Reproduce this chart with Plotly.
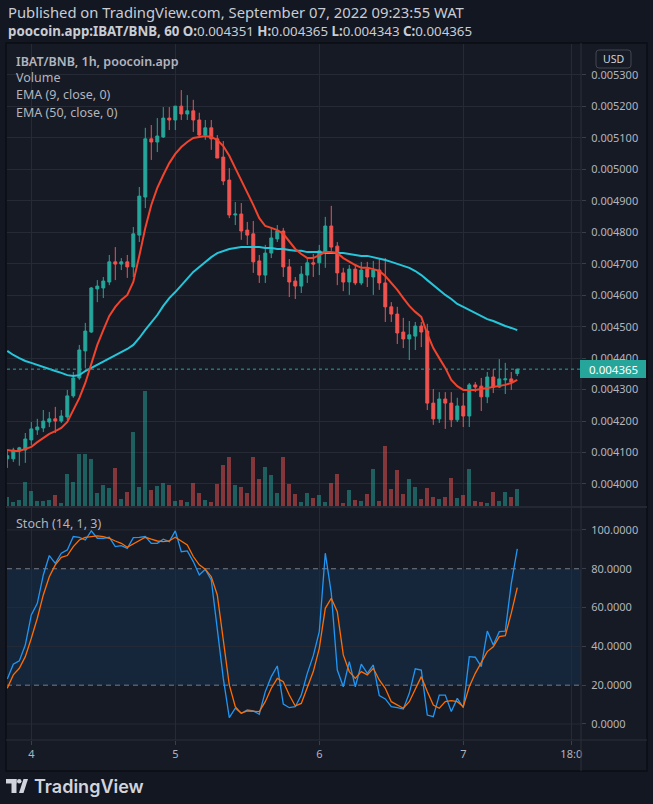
import plotly.graph_objects as go

W, H = 653, 804


def px(x):
    return x / W


def py(y):
    return 1 - y / H


# ---------------- data (1h candles, Sep 3 20:00 -> Sep 7 09:00) ----------------
hour_index = list(range(86))
day_tick_vals = [4, 28, 52, 76, 94]
day_tick_text = ["4", "5", "6", "7", "18:0"]
price_ticks = [0.0040, 0.0041, 0.0042, 0.0043, 0.0044, 0.0045, 0.0046,
               0.0047, 0.0048, 0.0049, 0.0050, 0.0051, 0.0052, 0.0053]
stoch_ticks = [0, 20, 40, 60, 80, 100]

open_ = [0.004080, 0.004080, 0.004105, 0.004108, 0.004140, 0.004172, 0.004178, 0.004197, 0.004207, 0.004200,
         0.004213, 0.004280, 0.004337, 0.004423, 0.004483, 0.004620, 0.004623, 0.004642, 0.004706, 0.004699,
         0.004706, 0.004690, 0.004791, 0.004912, 0.005097, 0.005087, 0.005103, 0.005163, 0.005157, 0.005201,
         0.005176, 0.005186, 0.005157, 0.005109, 0.005132, 0.005097, 0.005039, 0.004966, 0.004855, 0.004858,
         0.004807, 0.004795, 0.004709, 0.004664, 0.004734, 0.004779, 0.004804, 0.004690, 0.004645, 0.004629,
         0.004664, 0.004703, 0.004703, 0.004737, 0.004820, 0.004756, 0.004671, 0.004642, 0.004683, 0.004639,
         0.004683, 0.004658, 0.004680, 0.004639, 0.004563, 0.004540, 0.004483, 0.004461, 0.004470, 0.004502,
         0.004486, 0.004257, 0.004207, 0.004270, 0.004257, 0.004204, 0.004248, 0.004216, 0.004315, 0.004311,
         0.004277, 0.004340, 0.004308, 0.004331, 0.004334, 0.004351]
high = [0.004111, 0.004115, 0.004118, 0.004162, 0.004197, 0.004207, 0.004235, 0.004229, 0.004245, 0.004235,
        0.004299, 0.004356, 0.004442, 0.004512, 0.004626, 0.004648, 0.004658, 0.004728, 0.004753, 0.004718,
        0.004728, 0.004817, 0.004944, 0.005132, 0.005141, 0.005163, 0.005198, 0.005198, 0.005201, 0.005252,
        0.005236, 0.005221, 0.005180, 0.005157, 0.005157, 0.005109, 0.005090, 0.005004, 0.004896, 0.004893,
        0.004833, 0.004836, 0.004728, 0.004760, 0.004814, 0.004823, 0.004814, 0.004715, 0.004658, 0.004693,
        0.004718, 0.004731, 0.004760, 0.004849, 0.004884, 0.004769, 0.004687, 0.004696, 0.004696, 0.004706,
        0.004706, 0.004709, 0.004718, 0.004718, 0.004578, 0.004563, 0.004528, 0.004518, 0.004515, 0.004515,
        0.004509, 0.004302, 0.004292, 0.004292, 0.004292, 0.004274, 0.004289, 0.004321, 0.004324, 0.004337,
        0.004356, 0.004365, 0.004397, 0.004385, 0.004356, 0.004365]
low = [0.004051, 0.004070, 0.004058, 0.004067, 0.004124, 0.004156, 0.004165, 0.004181, 0.004162, 0.004194,
       0.004204, 0.004274, 0.004331, 0.004369, 0.004480, 0.004578, 0.004591, 0.004632, 0.004648, 0.004680,
       0.004655, 0.004658, 0.004769, 0.004877, 0.005030, 0.005055, 0.005100, 0.005125, 0.005125, 0.005157,
       0.005157, 0.005119, 0.005103, 0.005094, 0.005062, 0.005036, 0.004950, 0.004845, 0.004823, 0.004776,
       0.004760, 0.004671, 0.004639, 0.004639, 0.004718, 0.004769, 0.004658, 0.004594, 0.004588, 0.004607,
       0.004639, 0.004658, 0.004664, 0.004687, 0.004741, 0.004632, 0.004613, 0.004601, 0.004632, 0.004632,
       0.004626, 0.004601, 0.004617, 0.004515, 0.004515, 0.004445, 0.004432, 0.004394, 0.004426, 0.004435,
       0.004235, 0.004188, 0.004194, 0.004175, 0.004181, 0.004197, 0.004181, 0.004181, 0.004292, 0.004232,
       0.004257, 0.004289, 0.004305, 0.004286, 0.004299, 0.004343]
close = [0.004090, 0.004108, 0.004115, 0.004143, 0.004175, 0.004181, 0.004200, 0.004207, 0.004200, 0.004216,
         0.004280, 0.004337, 0.004426, 0.004486, 0.004623, 0.004629, 0.004645, 0.004706, 0.004699, 0.004706,
         0.004690, 0.004795, 0.004915, 0.005097, 0.005087, 0.005106, 0.005163, 0.005157, 0.005201, 0.005176,
         0.005186, 0.005157, 0.005109, 0.005132, 0.005097, 0.005036, 0.004963, 0.004855, 0.004858, 0.004804,
         0.004791, 0.004706, 0.004664, 0.004734, 0.004782, 0.004804, 0.004690, 0.004642, 0.004629, 0.004667,
         0.004703, 0.004699, 0.004741, 0.004820, 0.004753, 0.004671, 0.004642, 0.004683, 0.004639, 0.004680,
         0.004658, 0.004680, 0.004639, 0.004563, 0.004540, 0.004480, 0.004461, 0.004474, 0.004502, 0.004483,
         0.004257, 0.004207, 0.004270, 0.004257, 0.004204, 0.004248, 0.004216, 0.004315, 0.004308, 0.004277,
         0.004340, 0.004308, 0.004334, 0.004334, 0.004324, 0.004365]
volume = [28, 12, 18, 72, 45, 15, 15, 18, 33, 10,
          96, 72, 156, 156, 141, 39, 63, 55, 114, 21,
          42, 222, 57, 345, 48, 60, 69, 63, 15, 18,
          12, 69, 39, 18, 12, 66, 123, 147, 63, 57,
          39, 147, 81, 117, 93, 39, 147, 66, 36, 12,
          39, 24, 33, 12, 69, 96, 8, 48, 18, 15,
          36, 111, 15, 180, 51, 108, 36, 81, 57, 21,
          54, 27, 21, 27, 84, 24, 33, 111, 15, 12,
          9, 42, 15, 42, 27, 51]
ema9 = [0.004108, 0.004105, 0.004105, 0.004111, 0.004118, 0.004133, 0.004146, 0.004159, 0.004168, 0.004178,
        0.004197, 0.004235, 0.004273, 0.004321, 0.004378, 0.004442, 0.004489, 0.004534, 0.004563, 0.004585,
        0.004601, 0.004642, 0.004725, 0.004814, 0.004887, 0.004941, 0.004982, 0.005020, 0.005049, 0.005071,
        0.005087, 0.005100, 0.005103, 0.005106, 0.005103, 0.005093, 0.005074, 0.005043, 0.005004, 0.004966,
        0.004928, 0.004887, 0.004845, 0.004820, 0.004814, 0.004807, 0.004795, 0.004769, 0.004747, 0.004731,
        0.004718, 0.004718, 0.004728, 0.004737, 0.004737, 0.004734, 0.004718, 0.004706, 0.004696, 0.004687,
        0.004687, 0.004683, 0.004677, 0.004661, 0.004639, 0.004617, 0.004591, 0.004566, 0.004547, 0.004531,
        0.004477, 0.004432, 0.004400, 0.004369, 0.004331, 0.004311, 0.004299, 0.004299, 0.004299, 0.004302,
        0.004305, 0.004308, 0.004311, 0.004315, 0.004321, 0.004331]
ema50 = [0.004423, 0.004410, 0.004400, 0.004391, 0.004385, 0.004378, 0.004372, 0.004365, 0.004359, 0.004353,
         0.004346, 0.004343, 0.004346, 0.004359, 0.004369, 0.004381, 0.004391, 0.004400, 0.004410, 0.004420,
         0.004429, 0.004442, 0.004464, 0.004490, 0.004515, 0.004537, 0.004566, 0.004591, 0.004610, 0.004632,
         0.004652, 0.004674, 0.004690, 0.004706, 0.004721, 0.004734, 0.004741, 0.004747, 0.004750, 0.004753,
         0.004753, 0.004753, 0.004753, 0.004750, 0.004750, 0.004747, 0.004747, 0.004744, 0.004741, 0.004741,
         0.004737, 0.004737, 0.004737, 0.004734, 0.004734, 0.004734, 0.004734, 0.004731, 0.004728, 0.004725,
         0.004725, 0.004721, 0.004718, 0.004712, 0.004706, 0.004699, 0.004693, 0.004687, 0.004677, 0.004664,
         0.004648, 0.004632, 0.004617, 0.004601, 0.004588, 0.004572, 0.004563, 0.004553, 0.004543, 0.004534,
         0.004524, 0.004518, 0.004509, 0.004502, 0.004496, 0.004489]
stoch_k = [23.2, 30.8, 32.5, 40.7, 56.2, 62.2, 76.8, 86.8, 82.8, 88.0,
           89.7, 96.6, 96.2, 94.8, 99.5, 95.7, 95.7, 96.2, 91.4, 91.9,
           90.5, 96.0, 96.2, 96.6, 93.1, 93.1, 95.2, 94.0, 99.5, 88.8,
           89.2, 83.7, 76.8, 79.7, 74.2, 47.6, 23.5, 3.3, 8.1, 5.5,
           7.2, 6.7, 5.0, 16.7, 24.4, 29.9, 10.3, 8.4, 8.9, 14.9,
           26.1, 35.2, 47.6, 88.0, 67.4, 27.8, 19.2, 32.1, 19.2, 30.8,
           26.1, 30.4, 14.6, 12.9, 8.9, 8.4, 7.7, 15.8, 28.4, 27.8,
           4.6, 3.8, 14.9, 14.9, 6.4, 13.2, 8.4, 34.7, 34.4, 29.6,
           47.9, 40.7, 47.6, 47.9, 72.5, 90.2]
stoch_d = [18.4, 25.3, 28.7, 34.7, 44.2, 54.5, 66.5, 75.9, 82.0, 85.9,
           86.8, 91.4, 94.8, 96.2, 96.6, 96.9, 96.6, 95.7, 94.3, 93.1,
           91.1, 92.8, 94.5, 96.2, 95.2, 94.3, 94.0, 94.3, 96.2, 94.3,
           92.3, 86.3, 82.0, 79.7, 75.9, 66.5, 44.2, 20.1, 8.9, 5.5,
           6.7, 6.4, 6.4, 11.5, 18.4, 23.5, 21.8, 14.9, 9.3, 10.6,
           18.4, 27.0, 39.0, 59.6, 64.8, 57.9, 35.6, 27.0, 23.5, 27.0,
           25.3, 28.7, 22.7, 18.4, 11.5, 9.8, 8.1, 11.5, 18.4, 24.4,
           16.7, 9.8, 8.1, 11.5, 12.0, 11.5, 8.9, 19.2, 26.1, 32.1,
           37.3, 39.8, 45.0, 45.5, 57.1, 70.3]
last_price = 0.004365

# ---------------- styling ----------------
FONT = "Noto Sans"
PAPER = "#131722"
CHART_BG = "#161a25"
GRID = "#262a35"
BORDER = "#2a2e39"
TXT = "#b2b5be"
INC = "#26a69a"
DEC = "#ef5350"

fig = go.Figure()

vol_colors = ["rgba(38,166,154,0.5)" if c >= o else "rgba(239,83,80,0.5)" for o, c in zip(open_, close)]
fig.add_trace(go.Bar(x=hour_index, y=volume, width=0.72, marker=dict(color=vol_colors, line=dict(width=0)),
                     xaxis="x", yaxis="y", hoverinfo="skip", showlegend=False))
fig.add_trace(go.Candlestick(x=hour_index, open=open_, high=high, low=low, close=close,
                             xaxis="x", yaxis="y3", whiskerwidth=0,
                             increasing=dict(line=dict(color=INC, width=1), fillcolor=INC),
                             decreasing=dict(line=dict(color=DEC, width=1), fillcolor=DEC),
                             showlegend=False))
fig.add_trace(go.Scatter(x=hour_index, y=ema50, mode="lines", line=dict(color="#26c6da", width=2),
                         xaxis="x", yaxis="y3", showlegend=False))
fig.add_trace(go.Scatter(x=hour_index, y=ema9, mode="lines", line=dict(color="#f2432c", width=2),
                         xaxis="x", yaxis="y3", showlegend=False))
fig.add_trace(go.Scatter(x=hour_index, y=stoch_k, mode="lines", line=dict(color="#2196f3", width=1.3),
                         xaxis="x2", yaxis="y2", showlegend=False))
fig.add_trace(go.Scatter(x=hour_index, y=stoch_d, mode="lines", line=dict(color="#ff6d00", width=1.3),
                         xaxis="x2", yaxis="y2", showlegend=False))

XD = [px(7), px(581)]
XR = [-0.05, 95.62]
MAIN = [py(506), py(44)]
STO = [py(740), py(508)]

axis_font = dict(family=FONT, size=11, color=TXT)

layout = dict(
    width=W, height=H, margin=dict(l=0, r=0, t=0, b=0),
    paper_bgcolor=PAPER, plot_bgcolor="rgba(0,0,0,0)",
    showlegend=False, bargap=0,
    xaxis=dict(domain=XD, range=XR, anchor="y", tickvals=day_tick_vals, showticklabels=False,
               showgrid=True, gridcolor=GRID, gridwidth=1, zeroline=False, showline=False,
               rangeslider=dict(visible=False), fixedrange=True),
    yaxis=dict(domain=MAIN, range=[0, 1386], anchor="x", visible=False, showgrid=False, fixedrange=True),
    yaxis3=dict(overlaying="y", anchor="x", side="right", range=[0.003930, 0.0053985],
                tickvals=price_ticks, tickformat=".6f", showgrid=True, gridcolor=GRID, gridwidth=1,
                zeroline=False, showline=False, ticks="outside", ticklen=4, tickcolor="#3a3e4a",
                ticklabelstandoff=3, tickfont=axis_font, fixedrange=True),
    xaxis2=dict(domain=XD, range=XR, anchor="y2", tickvals=day_tick_vals, ticktext=day_tick_text,
                showgrid=True, gridcolor=GRID, gridwidth=1, zeroline=False, showline=False,
                ticks="outside", ticklen=4, tickcolor="#3a3e4a", tickfont=axis_font, fixedrange=True),
    yaxis2=dict(domain=STO, range=[-8.25, 111.3], anchor="x2", side="right", tickvals=stoch_ticks,
                tickformat=".4f", showgrid=False, zeroline=False, showline=False, ticks="outside",
                ticklen=4, tickcolor="#3a3e4a", ticklabelstandoff=3, tickfont=axis_font, fixedrange=True),
)

shapes = []
# chart frame background
shapes.append(dict(type="rect", xref="paper", yref="paper", x0=px(6), x1=px(647), y0=py(771), y1=py(43),
                   fillcolor=CHART_BG, line=dict(color="#0c0e14", width=1.5), layer="below"))
# stoch band & levels
shapes.append(dict(type="rect", xref="x2 domain", yref="y2", x0=0, x1=1, y0=20, y1=80,
                   fillcolor="rgba(33,150,243,0.1)", line=dict(width=0), layer="below"))
for lv in [0, 40, 60, 100]:
    shapes.append(dict(type="line", xref="x2 domain", yref="y2", x0=0, x1=1, y0=lv, y1=lv,
                       line=dict(color=GRID, width=1), layer="below"))
for lv in [20, 80]:
    shapes.append(dict(type="line", xref="x2 domain", yref="y2", x0=0, x1=1, y0=lv, y1=lv,
                       line=dict(color="#787b86", width=1, dash="5px,4px"), layer="below"))
# separators
shapes.append(dict(type="line", xref="paper", yref="paper", x0=px(581), x1=px(581), y0=py(771), y1=py(43),
                   line=dict(color=BORDER, width=1)))
shapes.append(dict(type="line", xref="paper", yref="paper", x0=px(6), x1=px(647), y0=py(507), y1=py(507),
                   line=dict(color=BORDER, width=1.5)))
shapes.append(dict(type="line", xref="paper", yref="paper", x0=px(6), x1=px(647), y0=py(740), y1=py(740),
                   line=dict(color=BORDER, width=1)))
# last price line
shapes.append(dict(type="line", xref="x domain", yref="y3", x0=0, x1=1, y0=last_price, y1=last_price,
                   line=dict(color=INC, width=1, dash="dot")))
# last price label box
shapes.append(dict(type="rect", xref="paper", yref="paper", x0=px(580), x1=px(646), y0=py(378), y1=py(360),
                   fillcolor=INC, line=dict(width=0), layer="above"))


def rrect(x0, y0, x1, y1, r):
    X = lambda v: px(v)
    Y = lambda v: py(v)
    return (f"M {X(x0 + r)},{Y(y0)} L {X(x1 - r)},{Y(y0)} Q {X(x1)},{Y(y0)} {X(x1)},{Y(y0 + r)} "
            f"L {X(x1)},{Y(y1 - r)} Q {X(x1)},{Y(y1)} {X(x1 - r)},{Y(y1)} L {X(x0 + r)},{Y(y1)} "
            f"Q {X(x0)},{Y(y1)} {X(x0)},{Y(y1 - r)} L {X(x0)},{Y(y0 + r)} Q {X(x0)},{Y(y0)} {X(x0 + r)},{Y(y0)} Z")


# USD badge
shapes.append(dict(type="path", xref="paper", yref="paper", path=rrect(596, 50, 631, 68, 3),
                   fillcolor=CHART_BG, line=dict(color="#434651", width=1), layer="above"))

# TradingView logo
LOGO = "#d1d4dc"
shapes.append(dict(type="rect", xref="paper", yref="paper", x0=px(6), x1=px(16.5), y0=py(783.5), y1=py(779),
                   fillcolor=LOGO, line=dict(width=0)))
shapes.append(dict(type="rect", xref="paper", yref="paper", x0=px(11.5), x1=px(16.5), y0=py(793), y1=py(779),
                   fillcolor=LOGO, line=dict(width=0)))
shapes.append(dict(type="circle", xref="paper", yref="paper", x0=px(17), x1=px(21.5), y0=py(783.5), y1=py(779),
                   fillcolor=LOGO, line=dict(width=0)))
shapes.append(dict(type="path", xref="paper", yref="paper",
                   path=f"M {px(19)},{py(793)} L {px(23.5)},{py(793)} L {px(28)},{py(779)} L {px(23.5)},{py(779)} Z",
                   fillcolor=LOGO, line=dict(width=0)))

layout["shapes"] = shapes

ann = []


def text(x, y, s, size=12.5, color=TXT, weight=None, xanchor="left", family=FONT):
    f = dict(family=family, size=size, color=color)
    if weight:
        f["weight"] = weight
    ann.append(dict(xref="paper", yref="paper", x=px(x), y=py(y), text=s, showarrow=False,
                    xanchor=xanchor, yanchor="middle", font=f, borderpad=0))


HDR = "#c9ccd3"
text(7, 12, "Published on TradingView.com, September 07, 2022 09:23:55 WAT", size=14.8, color=HDR)
text(7, 30.5, "<b>poocoin.app:IBAT/BNB, 60</b> <b>O:</b>0.004351 <b>H:</b>0.004365 <b>L:</b>0.004343 <b>C:</b>0.004365",
     size=13.3, color=HDR)
text(15, 61, "IBAT/BNB, 1h, poocoin.app", size=12.5, weight=600)
text(15, 78, "Volume", size=12.5)
text(15, 95, "EMA (9, close, 0)", size=12.5)
text(15, 112, "EMA (50, close, 0)", size=12.5)
text(15, 523, "Stoch (14, 1, 3)", size=12.5)
text(613.5, 59, "USD", size=10.5, color="#d1d4dc", xanchor="center")
text(613, 369.5, "0.004365", size=11.5, color="#ffffff", xanchor="center")
text(33, 786, "TradingView", size=18, color=LOGO, weight=600, family="Inter")

layout["annotations"] = ann
fig.update_layout(**layout)
fig.write_html("out.html", config={"displayModeBar": False, "staticPlot": True},
               post_script="document.body.style.margin='0';document.body.style.padding='0';"
                           "document.body.style.overflow='hidden';")
